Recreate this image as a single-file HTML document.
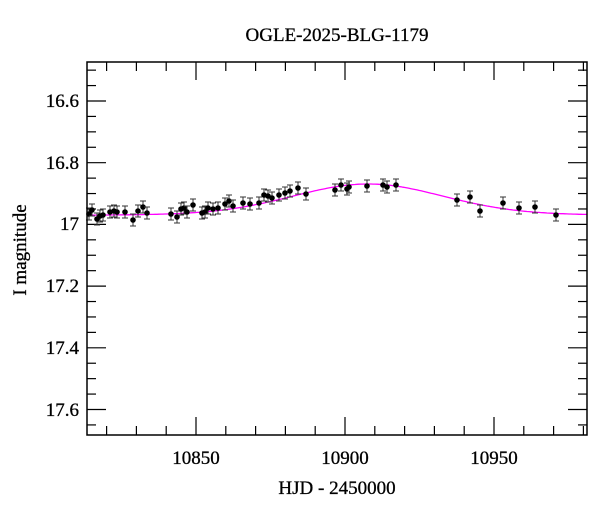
<!DOCTYPE html>
<html><head><style>body{margin:0;background:#fff}</style></head><body>
<svg id="svg" width="600" height="512" xmlns="http://www.w3.org/2000/svg" font-family="Liberation Serif, serif">
<rect width="600" height="512" fill="#fff"/>
<text x="337" y="41" text-anchor="middle" font-size="19" stroke="#000" stroke-width="0.3">OGLE-2025-BLG-1179</text>
<text x="337" y="494" text-anchor="middle" font-size="19" stroke="#000" stroke-width="0.3">HJD - 2450000</text>
<text transform="translate(26,250) rotate(-90)" text-anchor="middle" font-size="19" stroke="#000" stroke-width="0.3">I magnitude</text>
<g font-size="19" text-anchor="end" stroke="#000" stroke-width="0.3">
<text x="79" y="107">16.6</text><text x="79" y="169">16.8</text><text x="79" y="230">17</text>
<text x="79" y="292">17.2</text><text x="79" y="354">17.4</text><text x="79" y="416">17.6</text>
</g>
<g font-size="19" text-anchor="middle" stroke="#000" stroke-width="0.3">
<text x="196" y="464">10850</text><text x="345" y="464">10900</text><text x="494" y="464">10950</text>
</g>
<g id="tk" stroke="#000" stroke-width="1.2"></g>
<path id="curve" fill="none" stroke="#f0f" stroke-width="1.3"/>
<g id="pts" stroke="#333" stroke-width="1"></g>
<rect x="87" y="62" width="500" height="373" fill="none" stroke="#000" stroke-width="1.5"/>
</svg>
<script>
var ns="http://www.w3.org/2000/svg";
function el(par,tag,at){var e=document.createElementNS(ns,tag);for(var k in at)e.setAttribute(k,at[k]);document.getElementById(par).appendChild(e);}
function L(par,a,b,c,d){el(par,'line',{x1:a,y1:b,x2:c,y2:d});}
for(var t=10820;t<=10980;t+=10){var x=196+(t-10850)*2.98;if(x<88||x>586)continue;var l=(t%50==0)?18:9;L('tk',x,435,x,435-l);L('tk',x,62,x,62+l);}
for(var i=0;i<=24;i++){var m=16.5+i*0.05;var y=101+(m-16.6)*308.5;if(y<63||y>434)continue;var k=(i%4==2)?19:9;L('tk',87,y,87+k,y);L('tk',587,y,587-k,y);}
var d='';for(var x=87;x<=587;x+=2){var y=216-30*Math.exp(-Math.pow((x-368)/105,2))-2*Math.exp(-Math.pow((x-368)/300,2));d+=(x==87?'M':'L')+x+','+y.toFixed(1);}
document.getElementById('curve').setAttribute('d',d);
var P=[[89,214],[92,210],[97,219],[100,216],[103,215],[110,212],[114,211],[117,212],[125,212],[133,220],[138,211],[143,207],[147,213],[171,214],[177,217],[181,209],[184,208],[187,212],[193,205],[202,213],[205,212],[208,208],[213,209],[218,208],[225,204],[229,201],[233,206],[243,203],[250,204],[259,203],[264,195],[268,196],[272,198],[279,195],[285,193],[290,191],[298,188],[306,194],[335,190],[341,185],[347,189],[349,187],[367,186],[383,185],[387,187],[396,185],[457,200],[470,197],[480,211],[503,203],[519,208],[535,207],[556,215]];
P.forEach(function(p){var x=p[0],y=p[1];L('pts',x,y-6,x,y+6);L('pts',x-3,y-6,x+3,y-6);L('pts',x-3,y+6,x+3,y+6);el('pts','circle',{cx:x,cy:y,r:2.8,fill:'#000',stroke:'none'});});
</script>
</body></html>
